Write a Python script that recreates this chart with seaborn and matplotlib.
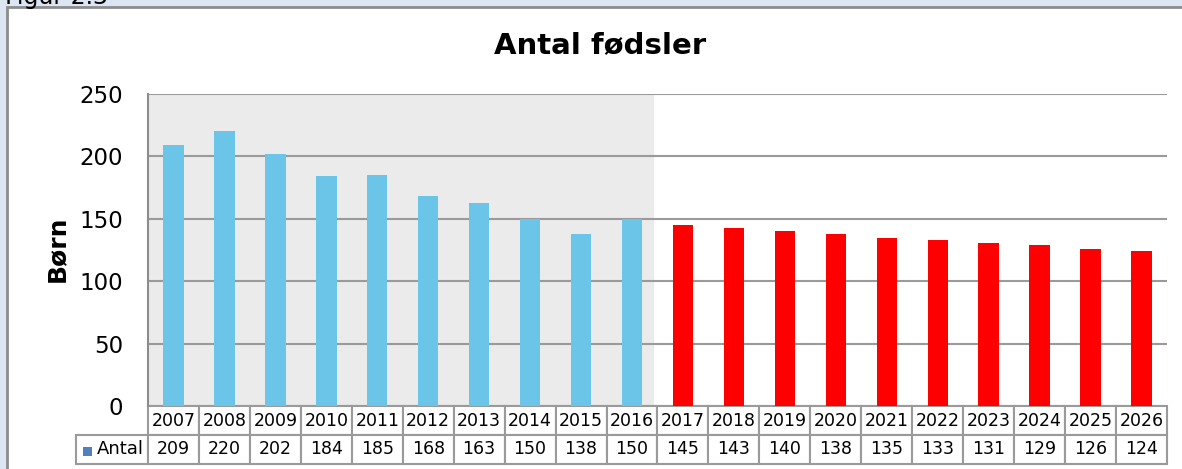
import matplotlib
matplotlib.use('Agg')
import matplotlib.pyplot as plt
import seaborn as sns
import pandas as pd
from matplotlib.patches import Rectangle

# Data: faktiske fødsler 2007-2016 og prognose 2017-2026
aar = [str(a) for a in range(2007, 2027)]
antal = [209, 220, 202, 184, 185, 168, 163, 150, 138, 150,
         145, 143, 140, 138, 135, 133, 131, 129, 126, 124]
periode = ['Faktisk'] * 10 + ['Prognose'] * 10
yticks = [0, 50, 100, 150, 200, 250]

df = pd.DataFrame({'aar': aar, 'antal': antal, 'periode': periode})

sns.set_style('white')
plt.rcParams['font.family'] = ['DejaVu Sans']
plt.rcParams['text.color'] = 'black'
plt.rcParams['ytick.color'] = 'black'
plt.rcParams['axes.labelcolor'] = 'black'

W, H = 1182, 469
fig = plt.figure(figsize=(W / 100, H / 100), dpi=100)
fig.patch.set_facecolor('#dce6f2')

# hvid ramme omkring diagrammet (bag akserne)
fig.patches.append(Rectangle((7 / W, -0.1), 1.1, 1.1 - 7 / H,
                             transform=fig.transFigure, facecolor='white',
                             edgecolor='#8c8c8c', lw=2, zorder=-1))

# figurnummeret er skåret af i toppen, som i originalen
fig.text(108 / W, 1 - 4 / H, 'Figur 2.3', fontsize=17, va='baseline', ha='right')

# plotområde i pixel
x0, x1, y0, y1 = 148, 1167, 94, 406
ax = fig.add_axes([x0 / W, 1 - y1 / H, (x1 - x0) / W, (y1 - y0) / H])
ax.set_facecolor('none')

ax.axvspan(-0.5, 9.42, color='#ebebeb', zorder=0)

sns.barplot(data=df, x='aar', y='antal', hue='periode',
            palette={'Faktisk': '#6bc5e8', 'Prognose': '#ff0000'},
            dodge=False, width=0.4, saturation=1, legend=False,
            linewidth=0, ax=ax, zorder=3)

ax.set_xlim(-0.5, 19.5)
ax.set_ylim(0, 250)
ax.set_yticks(yticks)
ax.set_xticks([])
ax.set_xlabel('')
ax.set_ylabel('')
ax.yaxis.grid(True, color='#9a9a9a', lw=1.5)
ax.set_axisbelow(True)
ax.tick_params(axis='y', length=0, pad=18, labelsize=16.5)

for s in ['top', 'right', 'bottom']:
    ax.spines[s].set_visible(False)
ax.spines['left'].set_color('#8c8c8c')
ax.spines['left'].set_linewidth(1.5)

# datatabel under akserne
bredde = x1 - x0
hoejde = y1 - y0
celle_tekst = [[''] + aar, [''] + [str(v) for v in antal]]
kol_bredder = [72] + [bredde / 20] * 20
tab = ax.table(cellText=celle_tekst, colWidths=kol_bredder, cellLoc='center',
               bbox=[-72 / bredde, -58 / hoejde, (bredde + 72) / bredde, 58 / hoejde])
tab.auto_set_font_size(False)
tab.set_fontsize(12.5)
for (r, c), celle in tab.get_celld().items():
    celle.set_edgecolor('#9a9a9a')
    celle.set_linewidth(1.5)
tab[0, 0].visible_edges = ''

# lille blå firkant som forklaring foran "Antal"
fig.patches.append(Rectangle((83 / W, 1 - 456 / H), 9 / W, 9 / H,
                             transform=fig.transFigure, facecolor='#4f81bd',
                             edgecolor='none', zorder=5))
ax.text((97 - x0) / bredde, (y1 - 449) / hoejde, 'Antal', fontsize=13,
        ha='left', va='center', transform=ax.transAxes)

fig.text(600 / W, 1 - 45 / H, 'Antal fødsler', fontsize=21, fontweight='bold',
         ha='center', va='center')
fig.text(57 / W, 1 - 249 / H, 'Børn', fontsize=18, fontweight='bold',
         rotation=90, ha='center', va='center')

plt.savefig('out.png', dpi=100, facecolor=fig.get_facecolor())
plt.close()
